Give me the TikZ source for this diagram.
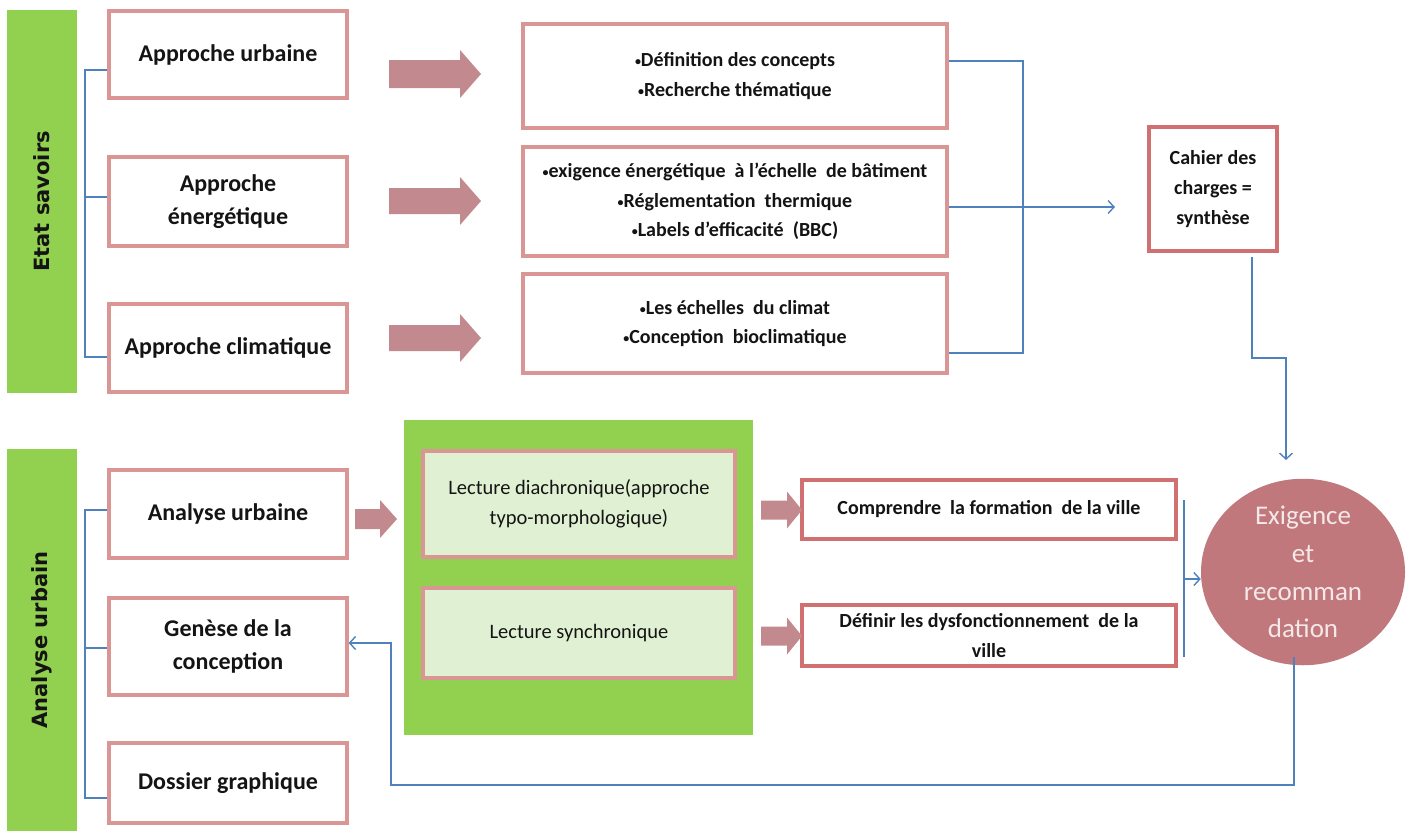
\documentclass[tikz,border=0pt]{standalone}
\usepackage{fontspec}
\setmainfont{Carlito}
\newfontfamily\sidefont{DejaVu Sans}
\usetikzlibrary{arrows.meta,shapes.geometric}
\definecolor{gbar}{HTML}{92D050}
\definecolor{pinkb}{HTML}{D99694}
\definecolor{redb}{HTML}{D07070}
\definecolor{fatc}{HTML}{C28A8F}
\definecolor{circ}{HTML}{C0787C}
\definecolor{ctext}{HTML}{F5E8E8}
\definecolor{blu}{HTML}{4F81BD}
\definecolor{lgreen}{HTML}{E0F0D2}
\definecolor{txt}{HTML}{141414}
\newcommand\fatarrow[6]{\fill[fatc] (#1,#4-#5) -- (#3,#4-#5) -- (#3,#4-#6) -- (#2,#4) -- (#3,#4+#6) -- (#3,#4+#5) -- (#1,#4+#5) -- cycle;}
\newcommand\bul{{\fontsize{12}{12}\selectfont\raisebox{1.2pt}{•}}}
\tikzset{
  pbox/.style={draw=pinkb, line width=3.2pt, fill=white, align=center, inner sep=2pt, text=txt,
    font=\bfseries\fontsize{20}{29.5}\selectfont},
  bigbox/.style={pbox, font=\bfseries\fontsize{24}{33}\selectfont},
  redbox/.style={pbox, draw=redb, font=\bfseries\fontsize{20}{30}\selectfont},
  lbox/.style={pbox, fill=lgreen, font=\fontsize{20.5}{30}\selectfont},
  sidebar/.style={fill=gbar, rotate=90, text=txt, font=\sidefont\bfseries\fontsize{21}{25}\selectfont},
  conn/.style={draw=blu, line width=1.4pt},
  arr/.style={conn, -{Straight Barb[length=6pt,width=13pt]}}
}
\begin{document}
\begin{tikzpicture}[x=1pt,y=-1pt]
\useasboundingbox (0,0) rectangle (1415,831);
% side bars
\node[sidebar, minimum width=383, minimum height=70] (es) at (42,201.5) {Etat savoirs};
\node[sidebar, minimum width=382, minimum height=70] (an) at (42,640) {Analyse urbain};
% left boxes top
\node[bigbox, minimum width=238, minimum height=87] (au) at (228,54.5) {Approche urbaine};
\node[bigbox, minimum width=238, minimum height=89] (ae) at (228,201.5) {Approche\\énergétique};
\node[bigbox, minimum width=238, minimum height=88] (ac) at (228,348) {Approche climatique};
% middle boxes top
\node[pbox, minimum width=424, minimum height=104] (d1) at (735,76) {\bul Définition des concepts\\\bul Recherche thématique};
\node[pbox, minimum width=424, minimum height=109] (d2) at (735,201.5) {\bul exigence énergétique \ à l’échelle \ de bâtiment\\\bul Réglementation \ thermique\\\bul Labels d’efficacité \ (BBC)};
\node[pbox, minimum width=424, minimum height=99] (d3) at (735,323.5) {\bul Les échelles \ du climat\\\bul Conception \ bioclimatique};
\node[redbox, minimum width=128, minimum height=124] (cah) at (1213,189) {Cahier des\\charges =\\synthèse};
% left boxes bottom
\node[bigbox, minimum width=238, minimum height=88] (anu) at (228,514) {Analyse urbaine};
\node[bigbox, minimum width=238, minimum height=97] (gen) at (228,646.5) {Genèse de la\\conception};
\node[bigbox, minimum width=238, minimum height=80] (dos) at (228,783) {Dossier graphique};
% green block
\node[fill=gbar, minimum width=349, minimum height=315] (gb) at (578.5,577.5) {};
\node[lbox, minimum width=312, minimum height=106] (ldia) at (579,504) {Lecture diachronique(approche\\typo-morphologique)};
\node[lbox, minimum width=312, minimum height=90] (lsyn) at (579,633) {Lecture synchronique};
% right boxes bottom
\node[redbox, minimum width=374, minimum height=59] (comp) at (989,509.5) {Comprendre \ la formation \ de la ville};
\node[redbox, minimum width=374, minimum height=61] (def) at (989,635.5) {Définir les dysfonctionnement \ de la\\ville};
\node[ellipse, fill=circ, minimum width=204, minimum height=184, inner sep=0pt, text=ctext, align=center,
  font=\fontsize{27}{37.7}\selectfont] (ex) at (1303,572) {Exigence\\et\\recomman\\dation};
% fat arrows
\fatarrow{389}{481}{460}{74}{14}{24}
\fatarrow{389}{481}{460}{201}{13}{24}
\fatarrow{389}{481}{460}{338}{13}{24}
\fatarrow{355}{397}{380}{519}{10}{19}
\fatarrow{761}{802}{787}{510}{9.5}{18.5}
\fatarrow{761}{802}{787}{636}{9.5}{18.5}
% coordinates
\coordinate (t1) at (85,70);
\coordinate (t2) at (85,197);
\coordinate (t3) at (85,357);
\coordinate (m1) at (1023,61);
\coordinate (m2) at (1023,207);
\coordinate (m3) at (1023,353);
\coordinate (ma) at (1115,207);
\coordinate (c1) at (1252,257);
\coordinate (c2) at (1252,358);
\coordinate (c3) at (1286,460);
\coordinate (u1) at (85,510);
\coordinate (u2) at (85,648);
\coordinate (u3) at (85,798);
\coordinate (r1) at (1184,500);
\coordinate (r2) at (1184,579);
\coordinate (r3) at (1184,657);
\coordinate (f1) at (1294,657);
\coordinate (f2) at (1294,785);
\coordinate (f3) at (391,785);
\coordinate (f4) at (391,643);
% connectors
\draw[conn] (au.west |- t1) -- (t1) -- (t3) -- (ac.west |- t3);
\draw[conn] (t2) -- (ae.west |- t2);
\draw[conn] (d1.east |- m1) -- (m1) -- (m3) -- (d3.east |- m3);
\draw[arr] (d2.east |- m2) -- (ma);
\draw[arr] (c1) -- (c2) -| (c3);
\draw[conn] (anu.west |- u1) -- (u1) -- (u3) -- (dos.west |- u3);
\draw[conn] (u2) -- (gen.west |- u2);
\draw[conn] (r1) -- (r3);
\draw[arr] (r2) -- (ex.west |- r2);
\draw[arr] (f1) -- (f2) -- (f3) -- (f4) -- (gen.east |- f4);
\end{tikzpicture}
\end{document}
